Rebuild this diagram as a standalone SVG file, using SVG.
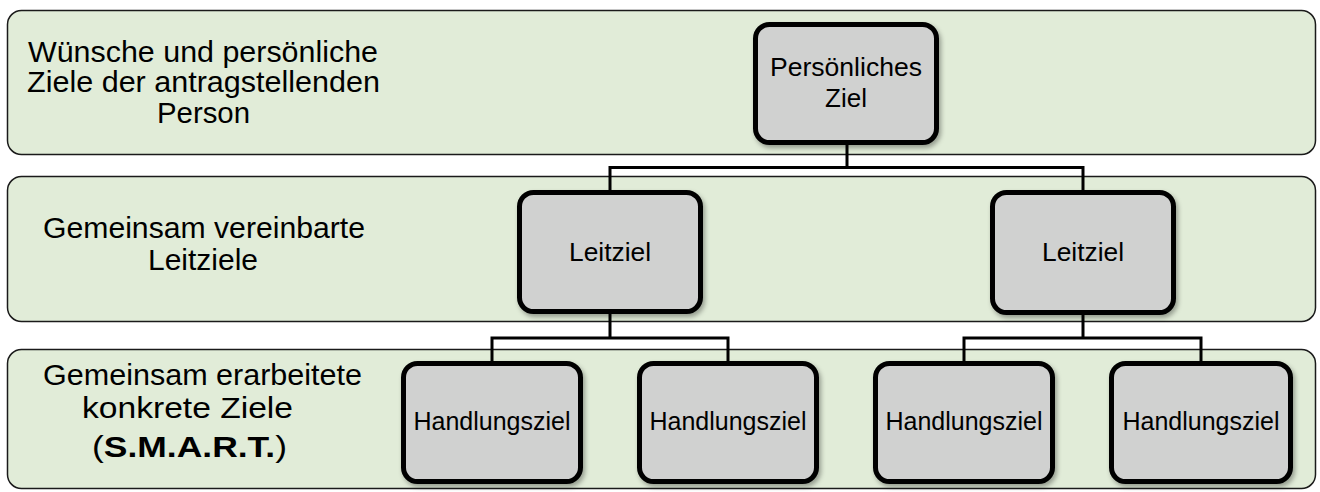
<svg xmlns="http://www.w3.org/2000/svg" width="1320" height="492" viewBox="0 0 1320 492">
<defs>
<filter id="sh" x="-10%" y="-10%" width="125%" height="125%">
<feGaussianBlur in="SourceAlpha" stdDeviation="2.5"/>
<feOffset dx="2" dy="3" result="b"/>
<feComponentTransfer><feFuncA type="linear" slope="0.35"/></feComponentTransfer>
<feMerge><feMergeNode/><feMergeNode in="SourceGraphic"/></feMerge>
</filter>
</defs>
<style>
.band{fill:#e1ecd8;stroke:#1a1a1a;stroke-width:1.5}
.box{fill:#d0d1d0;stroke:#000;stroke-width:5;filter:url(#sh)}
.lbl{font-family:"Liberation Sans",Arial,sans-serif;font-size:30px;fill:#000}
.bt{font-family:"Liberation Sans",Arial,sans-serif;font-size:25px;fill:#000;text-anchor:middle}
.bl{font-size:26px}
.con{fill:none;stroke:#000;stroke-width:3}
</style>
<rect width="1320" height="492" fill="#fff"/>
<g id="band1">
<rect class="band" x="7.5" y="10.5" width="1308" height="144" rx="14"/>
<text class="lbl" x="28" y="62" textLength="350" lengthAdjust="spacingAndGlyphs">Wünsche und persönliche</text>
<text class="lbl" x="27" y="92" textLength="353" lengthAdjust="spacingAndGlyphs">Ziele der antragstellenden</text>
<text class="lbl" x="157" y="123" textLength="93" lengthAdjust="spacingAndGlyphs">Person</text>
</g>
<g id="band2">
<rect class="band" x="7.5" y="176.5" width="1308" height="145" rx="14"/>
<text class="lbl" x="43" y="238" textLength="322" lengthAdjust="spacingAndGlyphs">Gemeinsam vereinbarte</text>
<text class="lbl" x="148" y="270" textLength="110" lengthAdjust="spacingAndGlyphs">Leitziele</text>
</g>
<g id="band3">
<rect class="band" x="7.5" y="349.5" width="1308" height="139" rx="14"/>
<text class="lbl" x="43" y="385" textLength="319" lengthAdjust="spacingAndGlyphs">Gemeinsam erarbeitete</text>
<text class="lbl" x="82" y="418" textLength="211" lengthAdjust="spacingAndGlyphs">konkrete Ziele</text>
<text class="lbl" x="92" y="457" textLength="195" lengthAdjust="spacingAndGlyphs">(<tspan font-weight="bold">S.M.A.R.T.</tspan>)</text>
</g>
<g id="connectors">
<path class="con" d="M610,190 V167.5 H1083 V190 M847,145 V167.5"/>
<path class="con" d="M492,361 V338 H728 V361 M610,314 V338"/>
<path class="con" d="M964,361 V338 H1201 V361 M1083,315 V338"/>
</g>
<g id="persoenliches-ziel">
<rect class="box" x="755.5" y="24.5" width="181" height="118" rx="14"/>
<text class="bt bl" x="846" y="76" textLength="152" lengthAdjust="spacingAndGlyphs">Persönliches</text>
<text class="bt bl" x="846" y="107">Ziel</text>
</g>
<g id="leitziel-1">
<rect class="box" x="519.5" y="192.5" width="181" height="119" rx="14"/>
<text class="bt bl" x="610" y="261" textLength="82" lengthAdjust="spacingAndGlyphs">Leitziel</text>
</g>
<g id="leitziel-2">
<rect class="box" x="992.5" y="192.5" width="181" height="120" rx="14"/>
<text class="bt bl" x="1083" y="261" textLength="82" lengthAdjust="spacingAndGlyphs">Leitziel</text>
</g>
<g id="handlungsziel-1">
<rect class="box" x="403.5" y="363.5" width="177" height="118" rx="14"/>
<text class="bt" x="492" y="430">Handlungsziel</text>
</g>
<g id="handlungsziel-2">
<rect class="box" x="639.5" y="363.5" width="177" height="118" rx="14"/>
<text class="bt" x="728" y="430">Handlungsziel</text>
</g>
<g id="handlungsziel-3">
<rect class="box" x="875.5" y="363.5" width="177" height="118" rx="14"/>
<text class="bt" x="964" y="430">Handlungsziel</text>
</g>
<g id="handlungsziel-4">
<rect class="box" x="1111.5" y="363.5" width="179" height="118" rx="14"/>
<text class="bt" x="1201" y="430">Handlungsziel</text>
</g>
</svg>
